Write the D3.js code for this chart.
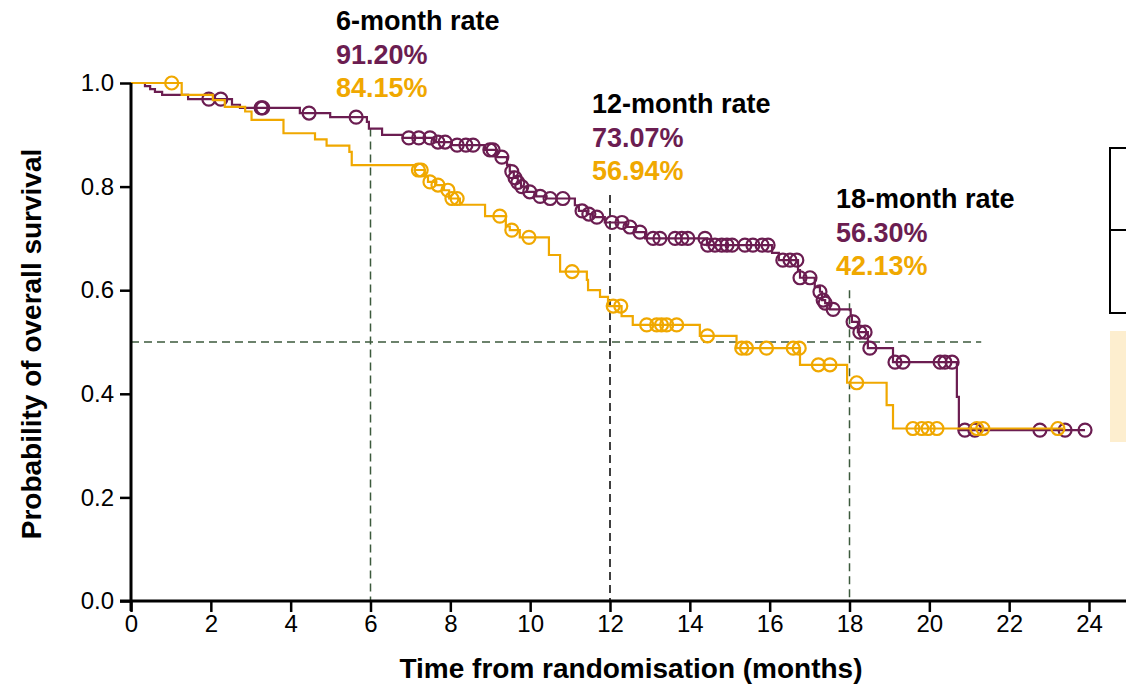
<!DOCTYPE html>
<html>
<head>
<meta charset="utf-8">
<script src="https://cdn.jsdelivr.net/npm/d3@7"></script>
<style>
  html, body { margin: 0; padding: 0; background: #fff; }
  svg { display: block; font-family: "Liberation Sans", Arial, sans-serif; }
</style>
</head>
<body>
<div id="chart"></div>
<script>
// Kaplan-Meier overall survival, two arms
const monthTicks = [0, 2, 4, 6, 8, 10, 12, 14, 16, 18, 20, 22, 24];
const survTicks = [0, 0.2, 0.4, 0.6, 0.8, 1.0];

// purple arm: event times (months) and survival after each step
const purpleTimes = [0.35, 0.48, 0.60, 0.78, 1.43, 2.53, 2.73, 4.23, 4.99, 5.91, 5.96, 6.29, 6.81, 7.59, 8.04,
  8.87, 9.17, 9.42, 9.49, 9.59, 9.69, 9.77, 9.92, 10.15, 10.40, 11.12, 11.22, 11.42, 11.57, 11.87,
  12.40, 12.63, 12.88, 14.43, 16.06, 16.23, 16.71, 16.76, 17.13, 17.26, 17.31, 17.39, 17.51,
  18.03, 18.06, 18.21, 18.46, 19.09, 20.69, 20.74];
const purpleSurv = [0.994, 0.988, 0.983, 0.977, 0.969, 0.958, 0.952, 0.942, 0.934, 0.925, 0.912, 0.900, 0.894, 0.886, 0.880,
  0.871, 0.857, 0.842, 0.829, 0.817, 0.808, 0.800, 0.790, 0.781, 0.777, 0.764, 0.753, 0.747, 0.741, 0.7307,
  0.722, 0.712, 0.700, 0.687, 0.672, 0.658, 0.639, 0.624, 0.606, 0.597, 0.581, 0.575, 0.563,
  0.551, 0.539, 0.519, 0.488, 0.461, 0.394, 0.330];
const purpleEnd = 23.9;
const purpleCensor = [1.95, 2.25, 3.26, 3.30, 4.46, 5.64, 6.96, 7.21, 7.49, 7.69, 7.87, 8.17, 8.39, 8.57, 8.99, 9.07,
  9.29, 9.54, 9.62, 9.69, 9.79, 9.99, 10.25, 10.50, 10.82, 11.30, 11.47, 11.67, 12.05, 12.30, 12.50,
  12.75, 13.08, 13.25, 13.63, 13.80, 13.95, 14.38, 14.45, 14.63, 14.80, 14.93, 15.06, 15.38, 15.58,
  15.81, 15.96, 16.33, 16.51, 16.68, 16.76, 17.01, 17.26, 17.34, 17.39, 17.59, 18.09, 18.26, 18.39,
  18.51, 19.14, 19.34, 20.27, 20.39, 20.57, 20.89, 21.14, 22.77, 23.40, 23.90];

// yellow arm
const yellowTimes = [1.27, 2.05, 2.35, 2.86, 3.02, 3.82, 4.61, 4.90, 5.47, 5.53, 7.11, 7.36, 7.44, 7.62, 7.84, 7.97,
  8.24, 8.87, 9.39, 9.49, 9.74, 10.47, 10.75, 11.42, 11.45, 11.75, 11.95, 12.29, 12.57, 14.25, 15.17,
  16.76, 17.94, 18.93, 19.09];
const yellowSurv = [0.977, 0.967, 0.954, 0.945, 0.929, 0.903, 0.891, 0.879, 0.867, 0.8415, 0.832, 0.820, 0.809, 0.803, 0.793, 0.777,
  0.765, 0.743, 0.723, 0.716, 0.702, 0.668, 0.636, 0.620, 0.600, 0.587, 0.5694, 0.550, 0.533, 0.512, 0.488,
  0.456, 0.4213, 0.378, 0.333];
const yellowEnd = 23.35;
const yellowCensor = [1.02, 7.20, 7.27, 7.49, 7.69, 7.94, 8.04, 8.17, 9.24, 9.54, 9.97, 11.05, 12.08, 12.27, 12.92,
  13.17, 13.29, 13.42, 13.67, 14.44, 15.30, 15.42, 15.92, 16.59, 16.74, 17.22, 17.51, 18.18, 19.59,
  19.81, 19.97, 20.19, 21.19, 21.34, 23.22];

// landmark rates
const landmarks = [6, 12, 18];
const landmarkTitles = ['6-month rate', '12-month rate', '18-month rate'];
const purpleRates = ['91.20%', '73.07%', '56.30%'];
const yellowRates = ['84.15%', '56.94%', '42.13%'];
const guideTops = [0.912, 0.784, 0.60];
const medianLevel = 0.5;
const medianEnd = 21.3;

const PURPLE = '#6b1d51';
const YELLOW = '#f0a800';
const GREEN = '#3c5a3c';

const width = 1126, height = 687;
const x = d3.scaleLinear().domain([0, 24]).range([131, 1089]);
const y = d3.scaleLinear().domain([0, 1]).range([601, 83]);

const svg = d3.select('#chart').append('svg')
  .attr('width', width)
  .attr('height', height);

function survAt(times, surv, t) {
  const i = d3.bisectRight(times, t + 1e-9);
  return i === 0 ? 1 : surv[i - 1];
}

function stepPoints(times, surv, end) {
  const pts = [[0, 1]];
  times.forEach((t, i) => pts.push([t, surv[i]]));
  pts.push([end, surv[surv.length - 1]]);
  return pts;
}

// right-side clipped legend box pieces
svg.append('rect').attr('x', 1110).attr('y', 148).attr('width', 40).attr('height', 165)
  .attr('fill', 'none').attr('stroke', '#000').attr('stroke-width', 2);
svg.append('line').attr('x1', 1110).attr('x2', 1126).attr('y1', 230).attr('y2', 230)
  .attr('stroke', '#000').attr('stroke-width', 2);
svg.append('rect').attr('x', 1110).attr('y', 331).attr('width', 20).attr('height', 111)
  .attr('fill', '#fdeecf');

// guide lines
landmarks.forEach((m, i) => {
  svg.append('line')
    .attr('x1', x(m)).attr('x2', x(m))
    .attr('y1', y(guideTops[i])).attr('y2', y(0))
    .attr('stroke', i === 1 ? '#000' : GREEN)
    .attr('stroke-width', 1.5)
    .attr('stroke-dasharray', '8,5');
});
svg.append('line')
  .attr('x1', x(0)).attr('x2', x(medianEnd))
  .attr('y1', y(medianLevel)).attr('y2', y(medianLevel))
  .attr('stroke', GREEN)
  .attr('stroke-width', 1.5)
  .attr('stroke-dasharray', '8,5');

// curves
const line = d3.line().x(d => x(d[0])).y(d => y(d[1])).curve(d3.curveStepAfter);

function drawArm(times, surv, end, censor, color) {
  const g = svg.append('g');
  g.append('path')
    .attr('d', line(stepPoints(times, surv, end)))
    .attr('fill', 'none')
    .attr('stroke', color)
    .attr('stroke-width', 2.2);
  g.selectAll('circle')
    .data(censor)
    .enter().append('circle')
    .attr('cx', d => x(d))
    .attr('cy', d => y(survAt(times, surv, d)))
    .attr('r', 6.5)
    .attr('fill', 'none')
    .attr('stroke', color)
    .attr('stroke-width', 2.2);
}

drawArm(purpleTimes, purpleSurv, purpleEnd, purpleCensor, PURPLE);
drawArm(yellowTimes, yellowSurv, yellowEnd, yellowCensor, YELLOW);

// axes
const xAxis = svg.append('g')
  .attr('transform', `translate(0,${y(0)})`)
  .call(d3.axisBottom(x).tickValues(monthTicks).tickSize(11).tickPadding(3).tickFormat(d3.format('d')));
xAxis.select('.domain').remove();
xAxis.append('line').attr('x1', 120).attr('x2', width).attr('y1', 0).attr('y2', 0)
  .attr('stroke', '#000').attr('stroke-width', 3);
xAxis.selectAll('.tick line').attr('stroke-width', 2.5);
xAxis.selectAll('.tick text').attr('font-size', 24).attr('fill', '#000')
  .style('font-family', '"Liberation Sans", Arial, sans-serif');

const yAxis = svg.append('g')
  .attr('transform', `translate(${x(0)},0)`)
  .call(d3.axisLeft(y).tickValues(survTicks).tickSize(11).tickPadding(6).tickFormat(d3.format('.1f')));
yAxis.select('.domain').remove();
yAxis.append('line').attr('x1', 0).attr('x2', 0).attr('y1', y(1)).attr('y2', y(0) + 10)
  .attr('stroke', '#000').attr('stroke-width', 3);
yAxis.selectAll('.tick line').attr('stroke-width', 2.5);
yAxis.selectAll('.tick text').attr('font-size', 24).attr('fill', '#000')
  .style('font-family', '"Liberation Sans", Arial, sans-serif');

// axis titles
svg.append('text')
  .attr('x', 631).attr('y', 678)
  .attr('text-anchor', 'middle')
  .attr('font-size', 28).attr('font-weight', 'bold')
  .text('Time from randomisation (months)');
svg.append('text')
  .attr('transform', 'translate(41,344) rotate(-90)')
  .attr('text-anchor', 'middle')
  .attr('font-size', 28).attr('font-weight', 'bold')
  .text('Probability of overall survival');

// landmark annotations
const labelX = [336, 592, 836];
const labelY = [30, 113, 208];
landmarks.forEach((m, i) => {
  const g = svg.append('g').attr('font-size', 27).attr('font-weight', 'bold');
  g.append('text').attr('x', labelX[i]).attr('y', labelY[i]).attr('fill', '#000').text(landmarkTitles[i]);
  g.append('text').attr('x', labelX[i]).attr('y', labelY[i] + 34).attr('fill', PURPLE).text(purpleRates[i]);
  g.append('text').attr('x', labelX[i]).attr('y', labelY[i] + 67).attr('fill', YELLOW).text(yellowRates[i]);
});
</script>
</body>
</html>
